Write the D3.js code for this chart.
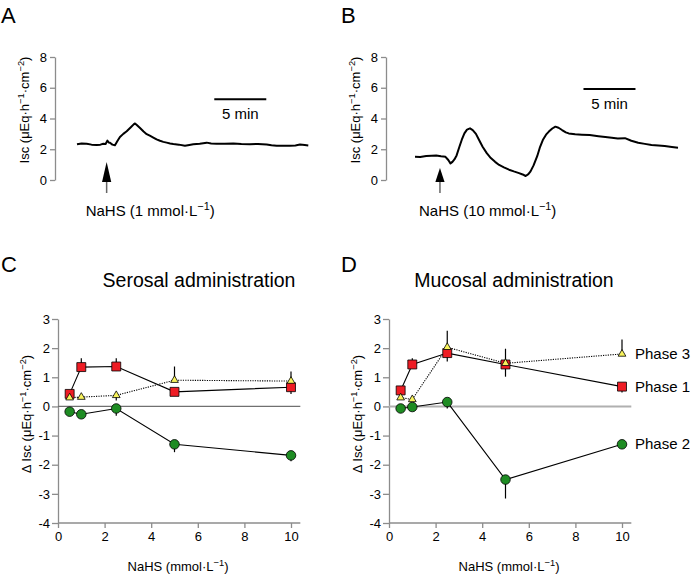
<!DOCTYPE html>
<html>
<head>
<meta charset="utf-8">
<script src="https://d3js.org/d3.v7.min.js"></script>
<style>
body { margin: 0; background: #fff; }
svg { display: block; font-family: "Liberation Sans", Arial, Helvetica, sans-serif; }
.axis path, .axis line { stroke: #8c8c8c; stroke-width: 1.3; }
.axis text { fill: #000; font-size: 13px; }
</style>
</head>
<body>
<div id="plot"></div>
<script>
var width = 693, height = 575;

// Isc traces: [minutes, uEq/h/cm2]
var traceA = [[0,2.32],[0.45,2.38],[0.93,2.36],[1.4,2.30],[1.89,2.27],[2.25,2.30],[2.53,2.36],[2.75,2.34],[2.92,2.56],
  [3.05,2.44],[3.17,2.42],[3.4,2.30],[3.65,2.26],[3.9,2.55],[4.13,2.80],[4.45,3.0],[4.78,3.17],[5.2,3.45],[5.45,3.62],
  [5.58,3.68],[5.75,3.58],[6.06,3.38],[6.4,3.15],[6.7,2.98],[7.0,2.88],[7.34,2.76],[7.65,2.64],[7.98,2.55],[8.3,2.48],
  [8.62,2.43],[8.95,2.38],[9.26,2.34],[9.8,2.30],[10.38,2.23],[10.8,2.28],[11.18,2.32],[11.8,2.36],[12.47,2.43],
  [12.9,2.38],[13.43,2.36],[14.2,2.35],[15.03,2.38],[15.8,2.34],[16.63,2.33],[17.4,2.34],[18.24,2.31],[18.7,2.26],
  [19.2,2.23],[19.8,2.22],[20.48,2.23],[21.0,2.25],[21.44,2.31],[21.9,2.28],[22.24,2.25]];
var traceB = [[0,1.51],[0.5,1.50],[1.08,1.56],[1.6,1.58],[2.04,1.60],[2.5,1.55],[2.93,1.51],[3.2,1.30],[3.41,1.08],
  [3.6,1.18],[3.79,1.34],[4.0,1.6],[4.27,2.16],[4.5,2.62],[4.75,3.03],[5.0,3.28],[5.29,3.36],[5.55,3.25],[5.86,3.0],
  [6.2,2.55],[6.5,2.16],[6.9,1.75],[7.29,1.43],[7.7,1.18],[8.09,0.98],[8.55,0.82],[9.04,0.67],[9.5,0.56],[10.0,0.45],
  [10.35,0.36],[10.64,0.26],[10.9,0.38],[11.11,0.56],[11.4,0.95],[11.75,1.55],[12.0,2.1],[12.29,2.6],[12.6,2.95],
  [12.87,3.15],[13.2,3.35],[13.5,3.47],[13.8,3.40],[14.14,3.25],[14.5,3.10],[14.78,3.03],[15.4,2.98],[16.05,2.95],
  [16.8,2.92],[17.64,2.85],[18.3,2.80],[18.92,2.75],[19.5,2.70],[20.19,2.72],[20.8,2.55],[21.46,2.42],[22.1,2.35],
  [22.74,2.27],[23.4,2.24],[24.01,2.21],[24.7,2.15],[25.29,2.10]];
var traceTicks = [0, 2, 4, 6, 8];

// dose-response (NaHS mmol/L), signed error bar length
var doses = [0.5, 1, 2.5, 5, 10];
var serosalPhase1 = [0.43, 1.35, 1.37, 0.50, 0.66];
var serosalPhase1Err = [0, 0.3, 0.28, 0, -0.23];
var serosalPhase2 = [-0.18, -0.27, -0.07, -1.30, -1.68];
var serosalPhase2Err = [0, 0, -0.25, -0.27, -0.2];
var serosalPhase3 = [0.30, 0.32, 0.38, 0.90, 0.87];
var serosalPhase3Err = [0, 0, -0.18, 0.47, 0.33];
var mucosalPhase1 = [0.55, 1.44, 1.83, 1.44, 0.68];
var mucosalPhase1Err = [0, 0.21, -0.29, -0.42, -0.2];
var mucosalPhase2 = [-0.07, -0.02, 0.15, -2.51, -1.30];
var mucosalPhase2Err = [0, 0, -0.22, -0.65, 0];
var mucosalPhase3 = [0.30, 0.24, 2.03, 1.48, 1.80];
var mucosalPhase3Err = [0, 0, 0.57, 0.5, 0.5];
var doseTicks = [0, 2, 4, 6, 8, 10];
var deltaTicks = [-4, -3, -2, -1, 0, 1, 2, 3];

var red = "#ee1c24", green = "#1e8c23", yellow = "#f8f35c";

var svg = d3.select("#plot").append("svg").attr("width", width).attr("height", height);

// text with superscript pieces: parts = [[text, isSup], ...]
function richText(g, x, y, parts, size, anchor, rotate) {
  var t = g.append("text").attr("font-size", size).attr("text-anchor", anchor || "start")
    .attr("transform", "translate(" + x + "," + y + ")" + (rotate ? " rotate(-90)" : ""));
  var shift = 0;
  parts.forEach(function (p) {
    var s = t.append("tspan").text(p[0]);
    if (p[1]) { s.attr("font-size", size * 0.72).attr("dy", -size * 0.4); shift = size * 0.4; }
    else if (shift) { s.attr("dy", shift); shift = 0; }
  });
  return t;
}

function label(x, y, txt, size, anchor) {
  svg.append("text").attr("x", x).attr("y", y).attr("font-size", size)
    .attr("text-anchor", anchor || "start").text(txt);
}

var iscParts = [["Isc (\u03bcEq\u00b7h", 0], ["\u22121", 1], ["\u00b7cm", 0], ["\u22122", 1], [")", 0]];

function tracePanel(o) {
  var x = d3.scaleLinear().domain([0, 5]).range([o.x0, o.x0 + 52]);
  var y = d3.scaleLinear().domain([0, 8]).range([180, 57]);
  svg.append("g").attr("class", "axis").attr("transform", "translate(" + o.axisX + ",0)")
    .call(d3.axisLeft(y).tickValues(traceTicks).tickSize(5).tickSizeOuter(0).tickPadding(3));
  richText(svg, o.axisX - 26, 110, iscParts, 13, "middle", true);
  svg.append("path").datum(o.data)
    .attr("d", d3.line().x(function (d) { return x(d[0]); }).y(function (d) { return y(d[1]); }))
    .attr("fill", "none").attr("stroke", "#000").attr("stroke-width", 2).attr("stroke-linejoin", "round");
  // 5 min scale bar
  svg.append("line").attr("x1", x(o.bar[0])).attr("x2", x(o.bar[0] + 5))
    .attr("y1", y(o.bar[1])).attr("y2", y(o.bar[1])).attr("stroke", "#000").attr("stroke-width", 2);
  label(x(o.bar[0] + 2.5), y(o.bar[1]) + 20, "5 min", 15, "middle");
  // NaHS arrow
  var ax = x(o.arrow);
  svg.append("line").attr("x1", ax).attr("x2", ax).attr("y1", 180).attr("y2", 193)
    .attr("stroke", "#666").attr("stroke-width", 1.5);
  svg.append("path").attr("d", "M" + ax + "," + o.tip + "L" + (ax + 4.6) + ",182L" + (ax - 4.6) + ",182Z").attr("fill", "#000");
  richText(svg, ax - 21, 216, [["NaHS (" + o.conc + " mmol\u00b7L", 0], ["\u22121", 1], [")", 0]], 15, "start");
  label(o.letterX, 23, o.letter, 22);
}

tracePanel({ x0: 77, axisX: 55, data: traceA, bar: [13.2, 5.25], arrow: 2.85, tip: 162, conc: 1, letter: "A", letterX: 1 });
tracePanel({ x0: 415, axisX: 386, data: traceB, bar: [16.2, 5.92], arrow: 2.4, tip: 168, conc: 10, letter: "B", letterX: 341 });

function dosePanel(o) {
  var x = d3.scaleLinear().domain([0, 10]).range([o.x0, o.x0 + 233]);
  var y = d3.scaleLinear().domain([-4, 3]).range([523, 319]);
  var g = svg.append("g");
  g.append("g").attr("class", "axis").attr("transform", "translate(" + o.x0 + ",0)")
    .call(d3.axisLeft(y).tickValues(deltaTicks).tickSize(6).tickSizeOuter(0).tickPadding(2).tickFormat(String));
  var xa = g.append("g").attr("class", "axis").attr("transform", "translate(0,523)")
    .call(d3.axisBottom(x).tickValues(doseTicks).tickSize(5).tickSizeOuter(0).tickPadding(4));
  xa.select(".domain").remove();
  xa.append("line").attr("x1", x(0)).attr("x2", x(10.4)).attr("stroke", "#8c8c8c").attr("stroke-width", 1.3);
  xa.selectAll(".tick line").attr("stroke", "#b0b0b0");
  g.append("line").attr("x1", x(0)).attr("x2", x(10.4)).attr("y1", y(0)).attr("y2", y(0))
    .attr("stroke", o.zeroColor).attr("stroke-width", o.zeroWidth);

  var series = [
    { v: o.p2, e: o.p2e, shape: "circle", fill: green, dash: null, name: "Phase 2" },
    { v: o.p1, e: o.p1e, shape: "square", fill: red, dash: null, name: "Phase 1" },
    { v: o.p3, e: o.p3e, shape: "triangle", fill: yellow, dash: "1.2,1.2", name: "Phase 3" }
  ];
  var line = d3.line().x(function (d, i) { return x(doses[i]); }).y(function (d) { return y(d); });
  series.forEach(function (s) {
    g.append("path").datum(s.v).attr("d", line).attr("fill", "none")
      .attr("stroke", "#000").attr("stroke-width", 1.1).attr("stroke-dasharray", s.dash);
  });
  series.forEach(function (s) {
    g.selectAll(null).data(s.v).enter().append("line")
      .attr("x1", function (d, i) { return x(doses[i]); }).attr("x2", function (d, i) { return x(doses[i]); })
      .attr("y1", function (d) { return y(d); }).attr("y2", function (d, i) { return y(d + s.e[i]); })
      .attr("stroke", "#000").attr("stroke-width", 1.2);
  });
  series.forEach(function (s) {
    var sym = s.shape === "circle" ? d3.symbolCircle : s.shape === "square" ? d3.symbolSquare : d3.symbolTriangle;
    var size = s.shape === "circle" ? 72 : s.shape === "square" ? 80 : 26;
    g.selectAll(null).data(s.v).enter().append("path")
      .attr("d", d3.symbol().type(sym).size(size))
      .attr("transform", function (d, i) { return "translate(" + x(doses[i]) + "," + y(d) + ")"; })
      .attr("fill", s.fill).attr("stroke", "#000").attr("stroke-width", 0.8);
    if (o.legend) label(x(10) + 13, y(s.v[4]) + 5, s.name, 15);
  });

  label(o.titleX, 287, o.title, 19.5, "middle");
  richText(svg, o.x0 + 120, 571, [["NaHS (mmol\u00b7L", 0], ["\u22121", 1], [")", 0]], 13, "middle");
  richText(svg, o.x0 - 27, 414, [["\u0394 " + iscParts[0][0], 0]].concat(iscParts.slice(1)), 13, "middle", true);
  label(o.letterX, 272, o.letter, 22);
}

dosePanel({ x0: 58, p1: serosalPhase1, p1e: serosalPhase1Err, p2: serosalPhase2, p2e: serosalPhase2Err,
  p3: serosalPhase3, p3e: serosalPhase3Err, zeroColor: "#707070", zeroWidth: 1.2,
  title: "Serosal administration", titleX: 199, letter: "C", letterX: 1, legend: false });
dosePanel({ x0: 389, p1: mucosalPhase1, p1e: mucosalPhase1Err, p2: mucosalPhase2, p2e: mucosalPhase2Err,
  p3: mucosalPhase3, p3e: mucosalPhase3Err, zeroColor: "#b0b0b0", zeroWidth: 2,
  title: "Mucosal administration", titleX: 514, letter: "D", letterX: 341, legend: true });
</script>
</body>
</html>
